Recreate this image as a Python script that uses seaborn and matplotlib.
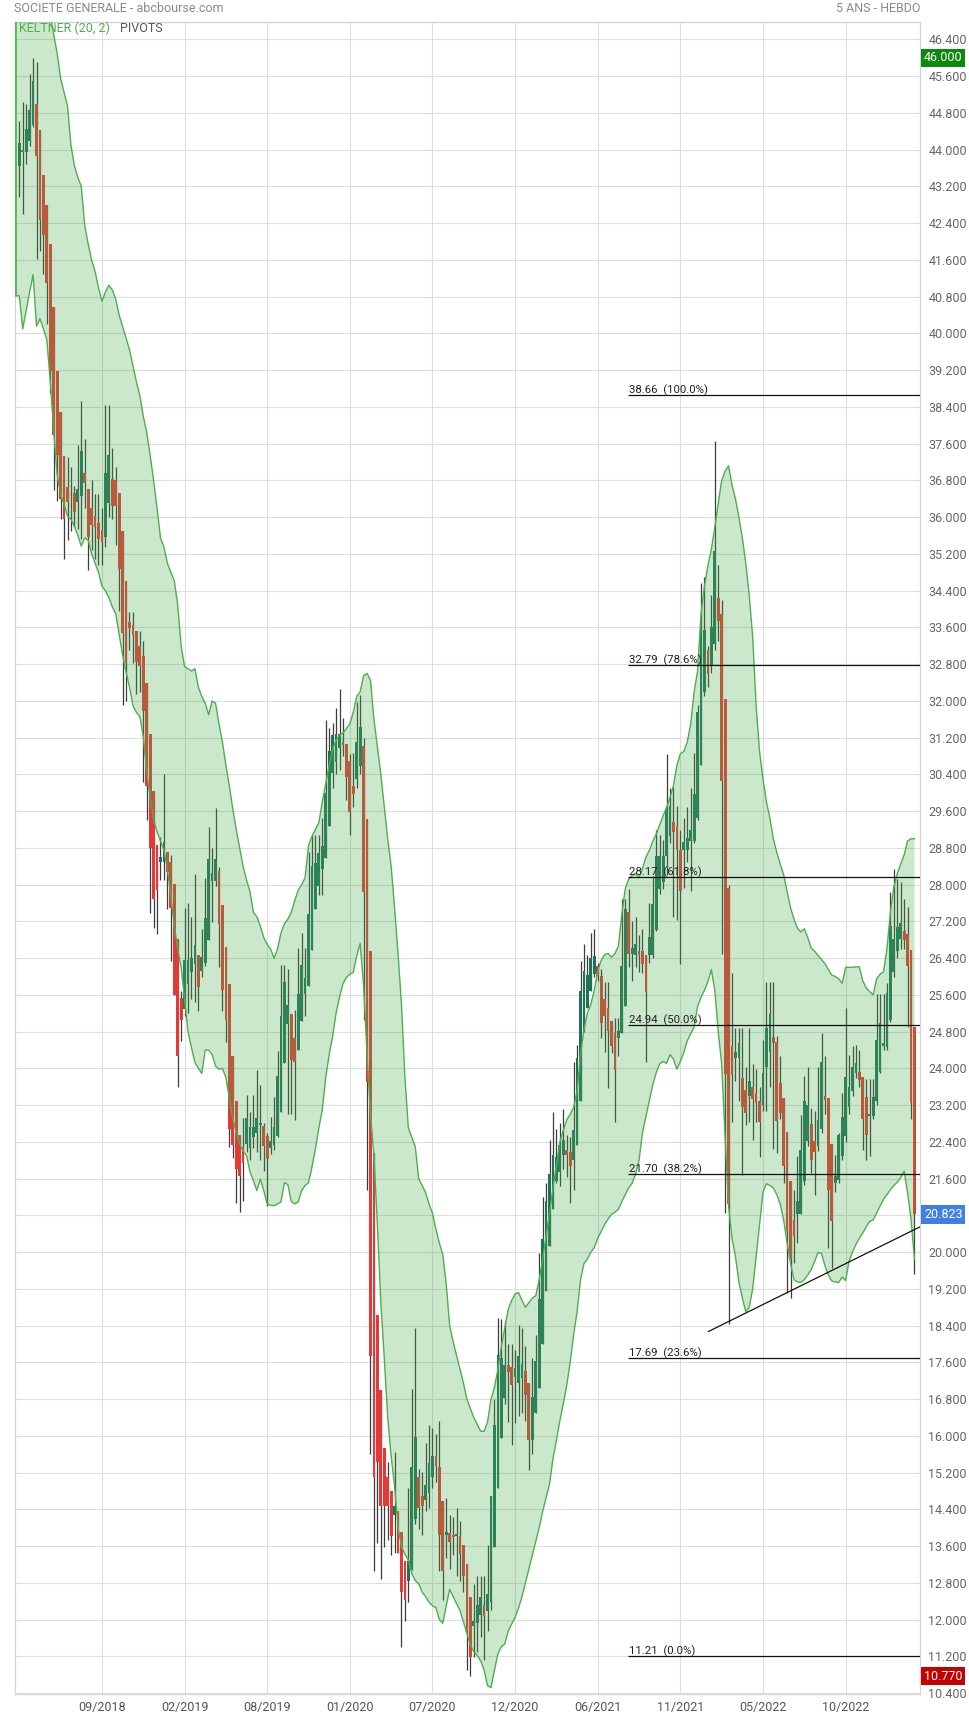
import numpy as np
import pandas as pd
import matplotlib
matplotlib.use("Agg")
import matplotlib.pyplot as plt
import matplotlib.transforms as mtransforms
import seaborn as sns

# ---------------- data (weekly candles, index 0 = first week shown) ----------------
opens = [
    43.65, 43.97, 43.96, 44.19, 44.53, 45.0, 44.43, 43.46, 42.8, 41.95,
    40.57, 39.18, 38.28, 37.34, 36.66, 36.5, 36.52, 36.33, 36.47, 36.97,
    36.62, 36.2, 36.02, 35.88, 35.72, 35.57, 36.3, 36.83, 36.8, 36.52,
    35.7, 34.6, 33.71, 33.65, 33.52, 33.19, 32.97, 32.38, 31.27, 30.03,
    28.86, 28.5, 28.5, 28.72, 28.5, 28.01, 26.82, 25.54, 25.3, 25.83,
    26.1, 26.27, 26.46, 26.12, 26.3, 26.8, 28.07, 28.07, 28.3, 27.55,
    26.64, 25.83, 24.28, 23.29, 22.55, 22.29, 22.36, 22.26, 22.51, 22.59,
    22.77, 22.74, 22.53, 22.26, 22.33, 22.53, 23.05, 24.11, 24.97, 25.19,
    24.67, 24.41, 25.03, 25.62, 25.8, 26.58, 27.47, 27.97, 28.34, 28.57,
    29.28, 30.43, 30.66, 30.97, 31.1, 31.07, 30.7, 30.15, 30.3, 30.58,
    31.01, 29.43, 26.56, 22.15, 18.63, 17.0, 15.73, 15.1, 14.8, 14.27,
    14.36, 13.91, 13.28, 12.83, 13.09, 14.19, 15.1, 14.7, 14.61, 14.76,
    15.1, 15.56, 15.33, 14.59, 13.85, 13.89, 13.82, 13.82, 13.82, 13.63,
    13.2, 12.49, 11.86, 11.92, 12.09, 12.32, 12.18, 12.38, 13.57, 14.87,
    15.96, 16.82, 17.55, 17.49, 17.29, 17.15, 17.25, 17.42, 17.15, 15.9,
    16.5, 17.04, 18.01, 19.15, 20.14, 20.93, 21.55, 21.74, 22.12, 22.23,
    22.17, 22.01, 22.34, 23.28, 24.79, 25.31, 25.69, 26.06, 26.23, 26.01,
    25.52, 25.31, 25.04, 24.77, 24.66, 24.77, 25.36, 27.4, 26.5, 26.46,
    26.55, 26.55, 26.46, 26.46, 26.46, 27.01, 27.91, 28.06, 28.63, 29.05,
    29.36, 29.27, 28.76, 28.76, 28.76, 28.95, 28.95, 29.46, 30.61, 32.2,
    33.1, 32.78, 33.23, 34.25, 33.89, 32.04, 27.93, 24.49, 24.23, 24.23,
    23.79, 23.53, 23.4, 23.6, 23.47, 23.28, 23.21, 24.04, 24.36, 24.68,
    24.58, 23.69, 23.35, 22.61, 21.54, 20.71, 20.82, 20.82, 21.54, 22.41,
    22.79, 22.41, 22.3, 22.68, 23.4, 23.35, 22.36, 21.51, 21.58, 22.09,
    22.52, 23.16, 23.5, 23.89, 23.93, 23.82, 23.37, 22.97, 22.97, 23.28,
    23.93, 24.49, 24.47, 25.05, 26.1, 26.56, 26.82, 27.0, 26.92, 26.57,
    24.91,
]
highs = [
    44.63, 45.04, 45.0, 45.65, 46.0, 45.92, 44.43, 43.46, 42.8, 41.95,
    40.57, 39.18, 38.28, 37.34, 37.3, 37.1, 36.68, 37.57, 38.53, 37.71,
    36.62, 36.8, 36.5, 36.5, 36.2, 38.45, 38.45, 37.5, 37.1, 36.52,
    35.7, 34.6, 33.94, 33.94, 33.52, 33.52, 33.3, 32.38, 31.27, 30.03,
    28.86, 29.04, 30.41, 28.72, 28.65, 28.01, 26.82, 25.69, 27.5, 27.6,
    27.3, 28.24, 26.46, 27.04, 28.14, 29.25, 28.79, 29.67, 28.38, 27.55,
    26.64, 25.83, 24.28, 23.29, 22.55, 22.92, 23.42, 23.05, 23.42, 23.97,
    23.63, 22.8, 22.6, 22.94, 23.38, 24.38, 26.26, 26.26, 26.16, 25.19,
    25.27, 26.63, 26.94, 26.61, 28.72, 29.09, 29.09, 29.09, 29.45, 31.59,
    31.41, 31.51, 31.84, 32.26, 31.63, 31.07, 30.84, 30.87, 31.97, 32.13,
    31.2, 29.43, 26.56, 22.15, 18.63, 17.0, 15.73, 15.44, 14.8, 15.64,
    14.36, 13.91, 13.28, 14.87, 17.03, 18.34, 15.27, 15.22, 15.84, 16.24,
    16.18, 16.05, 16.32, 14.59, 14.65, 14.27, 14.23, 14.42, 14.14, 13.63,
    13.2, 12.49, 12.77, 12.94, 12.94, 12.94, 13.63, 14.7, 16.81, 18.57,
    18.55, 18.5, 18.0, 18.0, 17.87, 18.41, 18.34, 17.96, 17.15, 17.7,
    18.2, 19.99, 21.2, 21.5, 22.44, 23.04, 22.69, 22.82, 23.12, 22.55,
    22.5, 24.14, 24.5, 26.34, 26.71, 26.47, 26.95, 27.04, 26.3, 26.17,
    25.87, 25.87, 25.04, 25.09, 25.09, 27.69, 27.69, 27.9, 27.2, 27.29,
    26.9, 27.04, 26.46, 27.61, 28.19, 29.2, 29.08, 28.98, 30.84, 30.1,
    30.12, 29.72, 29.2, 29.46, 29.7, 30.1, 30.86, 31.9, 34.56, 34.69,
    33.2, 34.31, 37.66, 34.95, 34.2, 32.04, 28.0, 26.08, 24.87, 24.87,
    24.87, 24.04, 24.87, 24.1, 23.98, 23.6, 24.62, 25.89, 25.89, 25.89,
    24.7, 24.26, 23.35, 22.61, 21.54, 21.36, 22.09, 22.99, 23.84, 24.04,
    23.13, 23.08, 24.04, 24.76, 24.26, 23.35, 22.36, 22.12, 22.6, 23.46,
    25.31, 24.29, 24.49, 24.51, 24.4, 23.82, 23.76, 23.76, 23.76, 25.63,
    25.63, 25.63, 25.85, 27.84, 28.34, 28.13, 28.05, 27.69, 27.51, 26.57,
    24.91,
]
lows = [
    42.96, 42.61, 43.69, 44.07, 44.5, 41.61, 41.8, 41.3, 40.2, 38.7,
    36.6, 36.36, 35.95, 35.08, 35.5, 35.7, 35.78, 35.74, 35.53, 36.2,
    34.84, 35.28, 35.08, 34.95, 34.95, 35.36, 36.0, 35.95, 35.4, 33.95,
    31.9, 32.0, 33.1, 32.82, 32.16, 32.19, 30.23, 29.4, 27.38, 27.05,
    26.92, 28.1, 28.1, 27.48, 26.34, 25.59, 23.6, 24.59, 25.15, 25.2,
    25.5, 25.44, 25.25, 25.98, 26.22, 26.8, 27.19, 27.96, 26.2, 25.25,
    24.57, 22.29, 22.05, 21.08, 20.88, 21.12, 22.17, 22.01, 22.26, 22.17,
    22.01, 21.76, 21.01, 22.13, 22.22, 22.51, 23.05, 24.11, 23.0, 23.0,
    22.88, 24.41, 25.03, 25.13, 25.8, 26.58, 27.47, 27.78, 27.78, 28.57,
    29.28, 30.1, 30.4, 30.5, 30.8, 29.84, 29.09, 29.7, 30.1, 30.4,
    25.05, 21.35, 15.6, 13.06, 13.66, 12.89, 13.57, 13.74, 13.4, 13.45,
    13.45, 11.41, 11.98, 12.38, 13.09, 14.08, 13.97, 13.85, 14.36, 14.42,
    14.87, 15.0, 13.06, 12.43, 13.34, 13.11, 13.4, 12.94, 12.83, 12.6,
    10.9, 10.77, 11.18, 11.29, 11.63, 11.12, 11.75, 12.2, 13.57, 14.87,
    15.96, 16.7, 16.3, 15.79, 16.28, 16.44, 16.5, 16.33, 15.25, 15.6,
    16.5, 17.04, 18.01, 19.15, 20.14, 20.93, 21.5, 21.44, 21.8, 21.63,
    21.07, 21.36, 22.34, 23.28, 24.79, 25.31, 25.69, 26.0, 25.9, 24.66,
    24.36, 23.58, 24.34, 22.84, 24.28, 24.77, 25.36, 26.2, 25.9, 26.21,
    26.1, 26.08, 24.13, 26.3, 26.4, 27.0, 27.8, 27.9, 28.21, 28.9,
    27.29, 27.23, 26.27, 27.93, 28.5, 27.87, 28.9, 29.4, 30.6, 32.1,
    32.3, 32.6, 33.1, 33.3, 26.5, 20.85, 18.43, 22.83, 23.72, 23.28,
    21.68, 22.77, 22.83, 22.45, 22.83, 22.06, 23.08, 23.08, 23.6, 22.25,
    22.16, 22.9, 21.5, 19.12, 19.01, 19.77, 20.2, 20.82, 21.47, 22.3,
    21.72, 21.25, 22.2, 22.6, 23.0, 20.09, 19.66, 21.3, 21.5, 22.0,
    22.4, 23.0, 23.4, 23.8, 23.6, 22.23, 22.01, 22.1, 22.9, 23.2,
    23.9, 24.4, 24.4, 25.0, 26.0, 26.4, 26.6, 26.6, 24.91, 22.9,
    19.52,
]
closes = [
    44.15, 43.95, 44.44, 44.87, 45.49, 43.86, 42.47, 42.15, 41.1, 39.18,
    37.78, 37.36, 36.4, 35.97, 36.34, 36.48, 36.12, 36.62, 37.45, 36.74,
    35.56, 35.83, 35.78, 35.53, 35.45, 36.97, 37.36, 36.24, 36.24, 34.87,
    33.48, 32.82, 33.58, 33.43, 32.85, 32.75, 31.77, 30.15, 28.79, 27.68,
    27.89, 28.6, 28.93, 28.28, 27.5, 25.59, 24.26, 25.05, 26.36, 26.36,
    26.4, 26.68, 25.78, 26.43, 27.27, 28.55, 28.25, 28.55, 27.14, 25.71,
    25.05, 22.68, 22.34, 21.8, 21.66, 21.95, 22.92, 22.72, 22.72, 22.91,
    22.78, 22.3, 22.03, 22.41, 22.72, 23.84, 25.13, 25.87, 25.38, 24.19,
    24.13, 25.63, 26.24, 25.97, 27.36, 28.4, 28.47, 28.68, 28.84, 30.0,
    30.92, 31.26, 31.27, 31.27, 31.03, 30.34, 29.59, 29.97, 31.11, 31.44,
    27.85, 23.7, 17.74, 15.1, 15.44, 14.48, 14.48, 14.48, 13.82, 14.48,
    13.45, 12.6, 12.43, 13.28, 15.33, 15.98, 14.42, 14.48, 14.93, 15.4,
    15.56, 15.35, 13.85, 13.06, 13.91, 13.68, 13.8, 13.82, 13.43, 12.94,
    11.75, 11.18, 11.98, 12.32, 12.49, 12.07, 12.55, 14.7, 16.24, 17.77,
    17.69, 17.55, 17.4, 17.11, 17.47, 17.74, 17.56, 16.88, 15.9, 16.85,
    17.63, 18.98, 20.28, 21.11, 21.69, 22.12, 22.06, 22.34, 22.44, 22.12,
    21.87, 22.66, 24.23, 25.69, 26.12, 26.03, 26.41, 26.44, 26.01, 24.98,
    25.15, 24.82, 24.48, 23.96, 24.82, 26.23, 27.47, 26.5, 26.62, 26.71,
    26.46, 26.27, 25.66, 26.85, 27.57, 28.63, 28.63, 28.63, 29.65, 29.72,
    29.14, 28.76, 27.87, 28.93, 29.02, 29.2, 29.97, 31.76, 33.74, 33.54,
    32.59, 33.61, 35.27, 33.74, 30.25, 23.88, 21.04, 23.85, 24.36, 24.55,
    23.15, 23.02, 23.72, 23.34, 23.24, 22.83, 23.91, 24.87, 25.19, 24.55,
    22.85, 23.03, 21.87, 20.46, 19.84, 20.35, 21.11, 22.23, 23.28, 23.21,
    22.0, 22.19, 22.88, 24.13, 23.31, 21.36, 20.67, 21.65, 22.56, 22.95,
    23.81, 23.6, 24.02, 24.11, 23.75, 22.9, 22.56, 22.99, 23.37, 24.62,
    24.99, 24.56, 25.64, 27.11, 26.82, 27.08, 27.16, 26.8, 26.22, 23.24,
    20.823,
]
keltner_upper = [
    47.6, 47.9, 47.9, 47.9, 48.0, 48.0, 47.8, 47.5, 47.2, 46.95,
    46.5, 46.1, 45.55, 45.25, 44.95, 44.1, 43.65, 43.4, 43.2, 42.35,
    41.95, 41.6, 41.35, 41.0, 40.7, 40.9, 41.05, 40.95, 40.75, 40.4,
    40.15, 39.9, 39.65, 39.3, 38.95, 38.65, 38.2, 37.85, 37.35, 36.8,
    36.2, 35.55, 35.35, 35.0, 34.8, 34.62, 34.1, 33.2, 32.75, 32.7,
    32.65, 32.7, 32.3, 32.1, 31.95, 31.7, 32.0, 31.95, 31.5, 31.1,
    30.6, 30.15, 29.65, 29.2, 28.8, 28.4, 28.1, 27.85, 27.4, 27.3,
    27.1, 26.85, 26.7, 26.6, 26.4, 26.6, 26.95, 27.15, 27.25, 27.4,
    27.65, 27.88, 28.0, 28.15, 28.85, 29.05, 29.2, 29.35, 29.8, 30.2,
    30.6, 30.95, 31.15, 31.25, 31.3, 31.4, 31.5, 31.75, 32.1, 32.2,
    32.55, 32.6, 32.45, 31.6, 31.0, 30.4, 29.7, 29.0, 28.4, 27.5,
    26.5, 25.4, 23.8, 22.7, 22.5, 22.3, 21.6, 21.45, 21.3, 21.05,
    20.85, 20.5, 20.2, 19.95, 19.3, 18.4, 18.05, 17.75, 17.45, 17.15,
    16.8, 16.6, 16.4, 16.25, 16.1, 16.1, 16.3, 16.8, 17.05, 17.45,
    17.95, 18.35, 18.75, 18.95, 19.09, 19.12, 18.95, 18.8, 18.9, 19.0,
    19.05, 19.4, 19.85, 20.35, 20.85, 21.4, 21.9, 22.4, 22.65, 22.88,
    23.0, 23.15, 23.5, 24.3, 24.85, 25.2, 25.4, 25.7, 26.12, 26.35,
    26.48, 26.5, 26.42, 26.5, 26.66, 27.36, 27.92, 28.12, 28.2, 28.25,
    28.15, 28.35, 28.6, 28.75, 28.95, 29.1, 29.3, 29.5, 29.68, 29.9,
    30.16, 30.6, 30.85, 30.9, 31.1, 31.5, 32.2, 32.65, 33.9, 34.5,
    34.95, 35.3, 35.78, 36.3, 36.8, 37.0, 37.12, 36.7, 36.4, 36.0,
    35.55, 35.0, 34.3, 33.4, 31.9, 30.9, 30.3, 29.8, 29.45, 29.0,
    28.7, 28.45, 28.22, 27.85, 27.5, 27.25, 27.05, 26.97, 27.04, 26.85,
    26.62, 26.55, 26.46, 26.37, 26.28, 26.15, 26.03, 26.0, 25.95, 25.85,
    26.2, 26.2, 26.2, 26.21, 26.21, 25.9, 25.75, 25.67, 25.6, 25.95,
    26.05, 26.1, 26.6, 27.4, 27.95, 28.24, 28.45, 28.65, 28.95, 29.0,
    29.0,
]
keltner_lower = [
    40.82, 40.1, 40.5, 40.9, 41.28, 40.16, 40.32, 40.1, 39.86, 38.95,
    37.87, 36.91, 36.5, 36.28, 36.03, 35.95, 35.8, 35.6, 35.37, 35.55,
    35.5, 35.2, 35.0, 34.8, 34.5, 34.4, 34.25, 34.05, 33.9, 33.45,
    33.0, 32.63, 32.3, 31.9, 31.75, 31.66, 31.22, 30.45, 29.9, 29.42,
    29.15, 28.95, 28.75, 28.35, 27.75, 27.1, 26.6, 26.2, 25.5, 24.8,
    24.45, 24.13, 24.0, 23.89, 24.4, 24.4, 24.3, 24.05, 23.98, 24.0,
    23.8, 23.35, 22.9, 22.6, 22.35, 22.2, 22.1, 21.75, 21.55, 21.34,
    21.59, 21.34, 21.05, 21.02, 21.01, 21.05, 21.09, 21.51, 21.47, 21.1,
    21.05, 21.09, 21.34, 21.45, 21.51, 21.85, 22.25, 22.7, 23.1, 23.8,
    24.3, 24.7, 25.2, 25.55, 25.84, 25.98, 26.05, 26.09, 26.45, 26.72,
    25.8, 24.3, 23.0, 22.1, 20.6, 18.9, 17.7, 16.4, 15.55, 14.9,
    14.0, 13.6, 13.42, 13.3, 13.0, 12.85, 12.78, 12.6, 12.5, 12.38,
    12.3, 12.26, 12.0, 11.92, 12.3, 12.66, 12.5, 12.35, 12.2, 11.95,
    11.7, 11.45, 11.3, 11.22, 11.1, 10.9, 10.56, 10.52, 10.9, 11.25,
    11.41, 11.47, 11.75, 11.9, 12.05, 12.25, 12.5, 12.8, 13.1, 13.4,
    13.7, 14.0, 14.35, 14.65, 14.95, 15.5, 15.9, 16.33, 16.7, 17.1,
    17.6, 18.2, 18.7, 19.4, 19.75, 19.85, 20.0, 20.1, 20.3, 20.45,
    20.6, 20.72, 20.82, 20.87, 20.93, 21.1, 21.25, 21.4, 21.5, 21.7,
    22.0, 22.6, 22.95, 23.3, 23.65, 23.91, 24.1, 24.15, 24.11, 24.3,
    24.2, 23.98, 24.15, 24.35, 24.6, 24.75, 24.9, 25.35, 25.55, 25.7,
    25.89, 26.15, 25.7, 24.8, 24.1, 22.5, 21.0, 20.3, 19.9, 19.35,
    19.0, 18.7, 18.8, 19.2, 19.9, 20.6, 21.3, 21.49, 21.45, 21.4,
    21.25, 21.05, 20.7, 20.2, 19.75, 19.4, 19.35, 19.34, 19.4, 19.5,
    19.62, 19.8, 19.99, 19.97, 19.7, 19.5, 19.37, 19.35, 19.34, 19.46,
    19.38, 19.8, 20.0, 20.17, 20.3, 20.42, 20.55, 20.67, 20.7, 20.85,
    21.0, 21.15, 21.25, 21.36, 21.45, 21.52, 21.62, 21.76, 21.29, 20.71,
    19.84,
]
pivot_levels = [38.66, 32.79, 28.17, 24.94, 21.70, 17.69, 11.21]
pivot_pcts = ["100.0%", "78.6%", "61.8%", "50.0%", "38.2%", "23.6%", "0.0%"]
tick_bars = [24, 48, 72, 96, 120, 144, 168, 192, 216, 240]
tick_labels = ["09/2018", "02/2019", "08/2019", "01/2020", "07/2020",
               "12/2020", "06/2021", "11/2021", "05/2022", "10/2022"]
trend_bars = [200.1, 261.6]
trend_prices = [18.27, 20.55]
pivot_start_bar = 176.7

lens = {len(opens), len(highs), len(lows), len(closes), len(keltner_upper), len(keltner_lower)}
if len(lens) != 1:
    raise ValueError(f"length mismatch {[len(a) for a in (opens, highs, lows, closes, keltner_upper, keltner_lower)]}")

# ---------------- style ----------------
sns.set_theme(style="white")
plt.rcParams["font.family"] = ["Roboto", "DejaVu Sans"]

W, H = 969, 1718
fig = plt.figure(figsize=(W / 100, H / 100), dpi=100)
L, R, T, B = 15, 920, 22, 1694
ax = fig.add_axes([L / W, 1 - B / H, (R - L) / W, (B - T) / H])

df = pd.DataFrame({"open": opens, "high": highs, "low": lows, "close": closes,
                   "upper": keltner_upper, "lower": keltner_lower})
df["bar"] = np.arange(len(df))

XMIN, XMAX = -1.25, 261.6
YMIN, YMAX = 10.38, 46.78

UP, DOWN = "#23705a", "#e53935"
BAND = "#4caf50"

is_up = df["close"] >= df["open"]
colors = np.where(is_up, UP, DOWN)
ax.vlines(df["bar"], df["low"], df["high"], colors="#3c3c3c", linewidth=0.9, zorder=2)
body_lo = np.minimum(df["open"], df["close"])
body_h = np.maximum((df["close"] - df["open"]).abs(), 0.035)
ax.bar(df["bar"], body_h, bottom=body_lo, width=0.8, color=colors, linewidth=0, zorder=2.5)

# Keltner band drawn over the candles (semi-transparent), as in the reference
bx = np.r_[XMIN, df["bar"].to_numpy(dtype=float)]
bu = np.r_[df["upper"].iloc[0], df["upper"].to_numpy()]
bl = np.r_[df["lower"].iloc[0], df["lower"].to_numpy()]
ax.fill_between(bx, bl, bu, color=BAND, alpha=0.29, linewidth=0, zorder=3)
band = pd.DataFrame({"bar": bx, "upper": bu, "lower": bl})
sns.lineplot(data=band, x="bar", y="upper", ax=ax, color=BAND, linewidth=1.0,
             sort=False, estimator=None, zorder=4)
sns.lineplot(data=band, x="bar", y="lower", ax=ax, color=BAND, linewidth=1.0,
             sort=False, estimator=None, zorder=4)
ax.plot([XMIN + 0.15, XMIN + 0.15], [bl[0], YMAX], color=BAND, lw=1.2, zorder=4)

# pivots
ax.hlines(pivot_levels, pivot_start_bar, XMAX, colors="#111111", linewidth=0.9, zorder=6)
for lvl, pct in zip(pivot_levels, pivot_pcts):
    ax.annotate(f"{lvl:.2f}  ({pct})", xy=(pivot_start_bar, lvl), xytext=(1, 1.2),
                textcoords="offset points", ha="left", va="baseline",
                fontsize=8.2, color="#222222", zorder=7)
ax.plot(trend_bars, trend_prices, color="#111111", lw=0.9, zorder=6)

# axes formatting
tags = [(max(highs), "#0b8a0b"), (closes[-1], "#3f7fe6"), (min(lows), "#c40000")]
ax.set_xlim(XMIN, XMAX)
ax.set_ylim(YMIN, YMAX)
yt = np.round(np.arange(10.4, 46.41, 0.8), 1)
ax.set_yticks(yt)
# a tick label lying under a value tag is hidden by that tag in the reference
ax.set_yticklabels(["" if any(abs(v - t) < 0.2 for t, _ in tags) else f"{v:.3f}" for v in yt])
ax.yaxis.tick_right()
ax.set_xticks(tick_bars)
ax.set_xticklabels(tick_labels)
ax.grid(True, color="#dedede", linewidth=0.8)
ax.set_axisbelow(True)
ax.tick_params(axis="y", length=0, pad=6, labelsize=9, labelcolor="#666666")
ax.tick_params(axis="x", length=0, pad=5, labelsize=9, labelcolor="#555555")
for s in ax.spines.values():
    s.set_color("#d4d4d4")
    s.set_linewidth(0.9)
ax.set_xlabel("")
ax.set_ylabel("")

# value tags on the price axis
trans = mtransforms.blended_transform_factory(ax.transAxes, ax.transData)
for v, fc in tags:
    ax.text(1.0045, v, f"{v:.3f}", transform=trans, ha="left", va="center",
            fontsize=9, color="white", zorder=10, clip_on=False,
            bbox=dict(boxstyle="square,pad=0.22", fc=fc, ec="none"))

# header texts
fig.text(14 / W, 1 - 9 / H, "SOCIETE GENERALE - abcbourse.com", ha="left", va="center",
         fontsize=9, color="#8a8a8a")
fig.text(R / W, 1 - 9 / H, "5 ANS - HEBDO", ha="right", va="center",
         fontsize=9, color="#8a8a8a")
fig.text(19 / W, 1 - 28 / H, "KELTNER (20, 2)", ha="left", va="center",
         fontsize=9, color=BAND)
fig.text(120 / W, 1 - 28 / H, "PIVOTS", ha="left", va="center",
         fontsize=9, color="#555555")

fig.savefig("out.png", dpi=100)
